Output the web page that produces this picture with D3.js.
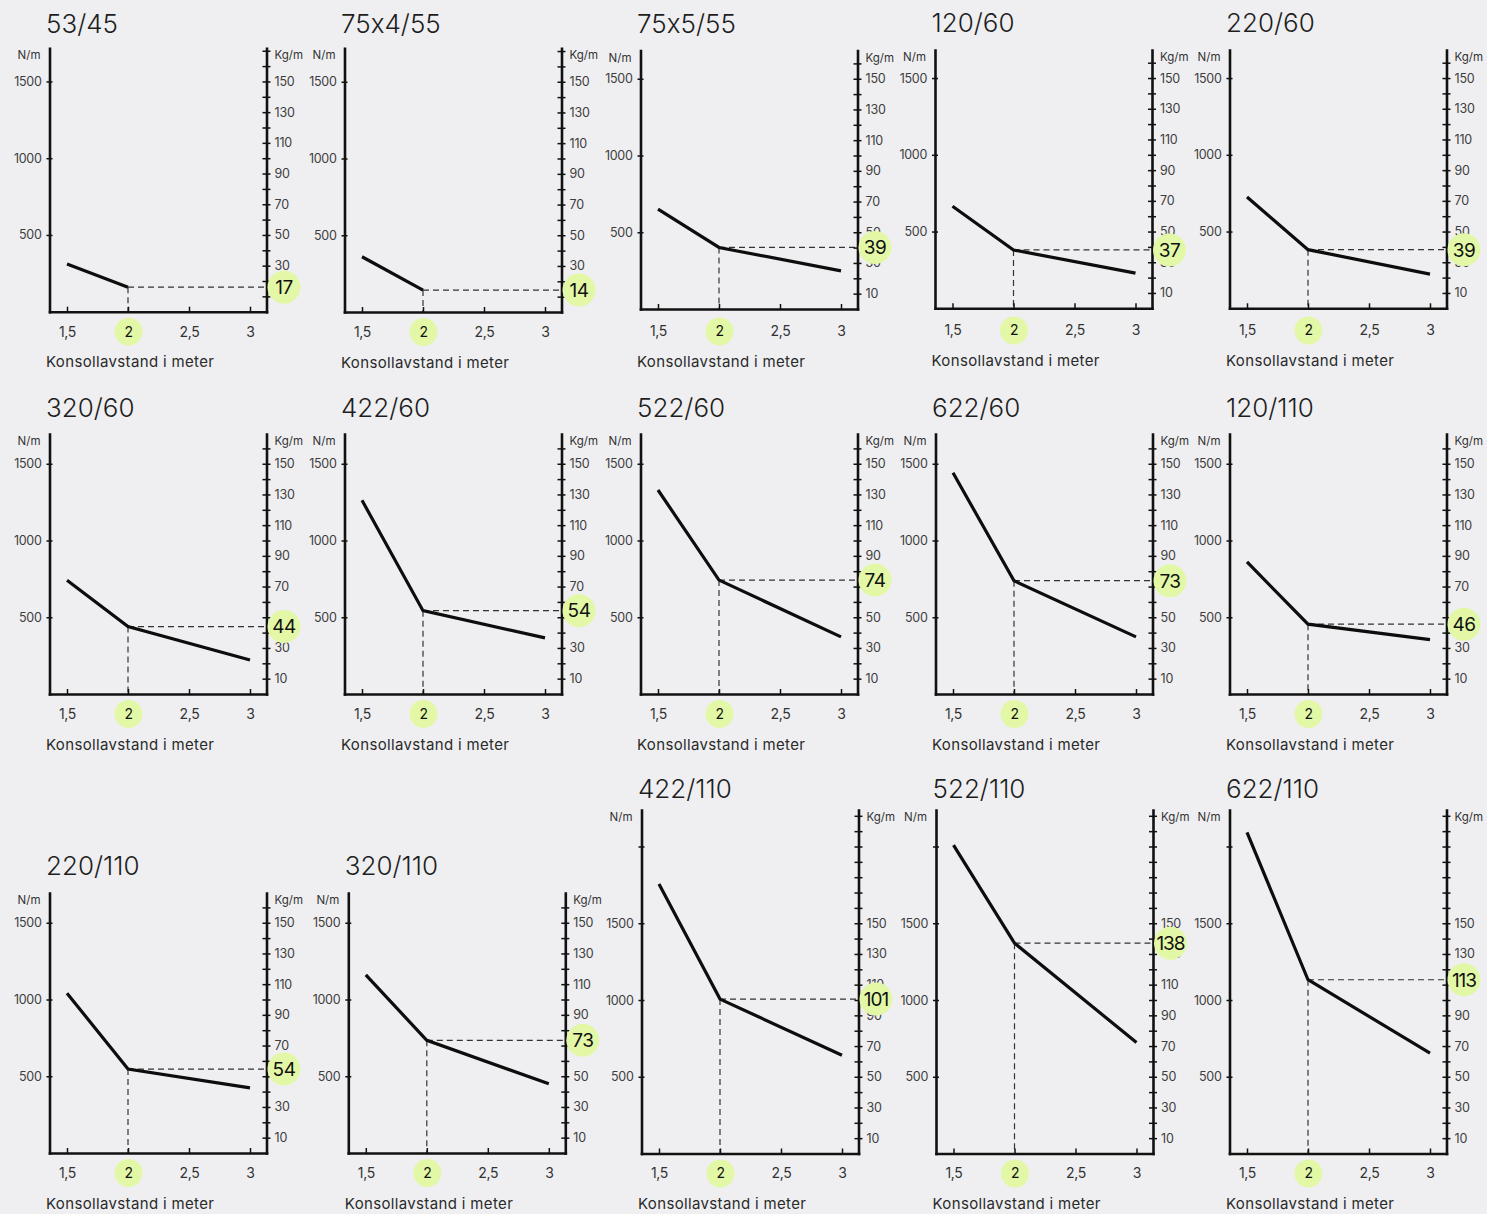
<!DOCTYPE html>
<html><head><meta charset="utf-8">
<script src="https://cdn.jsdelivr.net/npm/d3@7"></script>
<style>
html,body{margin:0;padding:0;background:#efeff1;}
svg{display:block;font-family:Inter,"Noto Sans",sans-serif;font-feature-settings:"calt" 0;}
</style></head><body>
<svg id="chart" width="1487" height="1214"></svg>
<script>
// ---------- data ----------
const titles = ["53/45","75x4/55","75x5/55","120/60","220/60","320/60","422/60","522/60","622/60","120/110","220/110","320/110","422/110","522/110","622/110"];
const distances = [1.5, 2, 3];
const loadAt15 = [310, 360, 650, 665, 725, 741, 1262, 1329, 1441, 860, 1041, 1160, 1755, 2009, 2092];
const loadAt2  = [160, 143, 401, 380, 382, 439, 543, 742, 738, 455, 547, 734, 1006, 1370, 1132];
const loadAt3  = [null, null, 248, 229, 223, 222, 366, 372, 372, 354, 424, 451, 640, 723, 654];
const kgAt2    = [17, 14, 39, 37, 39, 44, 54, 74, 73, 46, 54, 73, 101, 138, 113];
const xTicks = [1.5, 2, 2.5, 3];
const xTickLabels = ["1,5", "2", "2,5", "3"];
const nTickValues = [500, 1000, 1500, 2000];
const nTickLabels = ["500", "1000", "1500", ""];
const kgLabelValues = [10, 30, 50, 70, 90, 110, 130, 150];
const xAxisTitle = "Konsollavstand i meter";
const leftUnit = "N/m", rightUnit = "Kg/m";

// ---------- layout ----------
const panelX    = [49.5, 344.5, 640.5, 935, 1229.5, 49.5, 344.5, 640.5, 935.5, 1229.5, 49.5, 348.3, 641.5, 936, 1229.5];
const panelBase = [311.7, 312, 309, 308.3, 308.3, 694, 694, 694, 694, 694, 1153, 1153, 1153.5, 1153.5, 1153.5];
const panelLabelBase = [311.7, 312, 311.5, 310.5, 310.5, 694, 694, 694, 694, 694, 1153, 1153, 1153.5, 1153.5, 1153.5];
const panelTop  = [48.3, 48.3, 50.5, 50, 50, 434, 434, 434, 434, 434, 893, 893, 810, 810, 810];
const panelTitleY = [33, 33, 33, 32, 32, 417, 417, 417, 417, 417, 875, 875, 798, 798, 798];
const AXIS_W = 217, PX_PER_N = 0.1535, PX_PER_M = 122;
const GREEN = "#e3f8a6";

const svg = d3.select("#chart");

titles.forEach((title, i) => {
  const xl = panelX[i], y0 = panelBase[i], top = panelTop[i], xr = xl + AXIS_W;
  const lb = panelLabelBase[i];
  const nMax = (y0 - top) / PX_PER_N;
  const x = d3.scaleLinear().domain([1.5 - 17.5 / PX_PER_M, 1.5 + (AXIS_W - 17.5) / PX_PER_M]).range([xl, xr]);
  const y = d3.scaleLinear().domain([0, nMax]).range([y0, top]);
  const kg = d3.scaleLinear().domain([0, nMax / 10]).range([y0, top]);
  const g = svg.append("g");

  // title
  g.append("text").attr("x", xl - 3.5).attr("y", panelTitleY[i])
    .attr("font-size", 26).attr("font-weight", 300).attr("fill", "#1e1e1e").text(title);

  // units
  g.append("text").attr("x", xl - 9).attr("y", top + 11).attr("text-anchor", "end")
    .attr("font-size", 11.5).attr("fill", "#333").text(leftUnit);
  g.append("text").attr("x", xr + 8).attr("y", top + 11)
    .attr("font-size", 11.5).attr("fill", "#333").text(rightUnit);

  // dashed guides at x = 2
  const px = x(2), py = y(loadAt2[i]);
  g.append("line").attr("x1", px).attr("x2", xr + 17).attr("y1", py).attr("y2", py)
    .attr("stroke", "#333").attr("stroke-width", 1.2).attr("stroke-dasharray", "6,4");
  g.append("line").attr("x1", px).attr("x2", px).attr("y1", py).attr("y2", y0)
    .attr("stroke", "#333").attr("stroke-width", 1.2).attr("stroke-dasharray", "6,4");

  // data line
  const pts = distances.map((d, k) => [d, [loadAt15, loadAt2, loadAt3][k][i]]).filter(p => p[1] != null);
  g.append("path").datum(pts)
    .attr("d", d3.line().x(d => x(d[0])).y(d => y(d[1])))
    .attr("fill", "none").attr("stroke", "#0d0d0d").attr("stroke-width", 3.2).attr("stroke-linejoin", "miter");

  // left axis
  const la = d3.axisLeft(y).tickValues(nTickValues.filter(v => v < nMax))
    .tickFormat(v => nTickLabels[nTickValues.indexOf(v)])
    .tickSizeInner(3).tickSizeOuter(0).tickPadding(5);
  const gl = g.append("g").attr("transform", `translate(${xl},0)`).call(la)
    .attr("font-family", null).attr("font-size", null);
  gl.select(".domain").attr("stroke", "#111").attr("stroke-width", 2.6).attr("stroke-linecap", "square");
  gl.selectAll(".tick line").attr("x1", -3).attr("x2", 3).attr("stroke", "#111").attr("stroke-width", 1.5);
  gl.selectAll(".tick text").attr("fill", "#3d3d3d").attr("font-size", 12.5).attr("letter-spacing", -0.3);

  // right axis
  const kgMax = Math.floor(nMax / 100) * 10;
  const ra = d3.axisRight(kg).tickValues(d3.range(10, kgMax + 1, 10))
    .tickFormat(v => kgLabelValues.includes(v) ? v : "")
    .tickSizeInner(4).tickSizeOuter(0).tickPadding(4);
  const gr = g.append("g").attr("transform", `translate(${xr},0)`).call(ra)
    .attr("font-family", null).attr("font-size", null);
  gr.select(".domain").attr("stroke", "#111").attr("stroke-width", 2.6).attr("stroke-linecap", "square");
  gr.selectAll(".tick line").attr("x1", -4).attr("x2", 4).attr("stroke", "#111").attr("stroke-width", 1.5);
  gr.selectAll(".tick text").attr("fill", "#3d3d3d").attr("font-size", 12.5).attr("letter-spacing", -0.2);

  // bottom axis
  const ba = d3.axisBottom(x).tickValues(xTicks).tickFormat((d, k) => xTickLabels[k])
    .tickSizeInner(-5).tickSizeOuter(0).tickPadding(15 + lb - y0);
  const gb = g.append("g").attr("transform", `translate(0,${y0})`).call(ba)
    .attr("font-family", null).attr("font-size", null);
  gb.select(".domain").attr("stroke", "#111").attr("stroke-width", 2.6).attr("stroke-linecap", "square");
  gb.selectAll(".tick line").attr("stroke", "#111").attr("stroke-width", 1.5);
  gb.selectAll(".tick").filter(d => d === 2).insert("circle", "text")
    .attr("cx", 0).attr("cy", 20 + lb - y0).attr("r", 14).attr("fill", GREEN);
  gb.selectAll(".tick text").attr("fill", "#333").attr("font-size", 14).attr("letter-spacing", -0.3);
  gb.selectAll(".tick").filter(d => d === 2).select("text").attr("fill", "#111");

  // axis title
  g.append("text").attr("x", xl - 3.5).attr("y", lb + 55.5)
    .attr("font-size", 15).attr("letter-spacing", 0.35).attr("fill", "#2a2a2a").text(xAxisTitle);

  // value bubble
  g.append("circle").attr("cx", xr + 17.5).attr("cy", py).attr("r", 16.5).attr("fill", GREEN);
  g.append("text").attr("x", xr + 17.5).attr("y", py).attr("dy", "0.36em")
    .attr("text-anchor", "middle").attr("font-size", 19).attr("letter-spacing", kgAt2[i] >= 100 ? -1 : -0.5)
    .attr("fill", "#111").text(kgAt2[i]);
});
</script>
</body></html>
